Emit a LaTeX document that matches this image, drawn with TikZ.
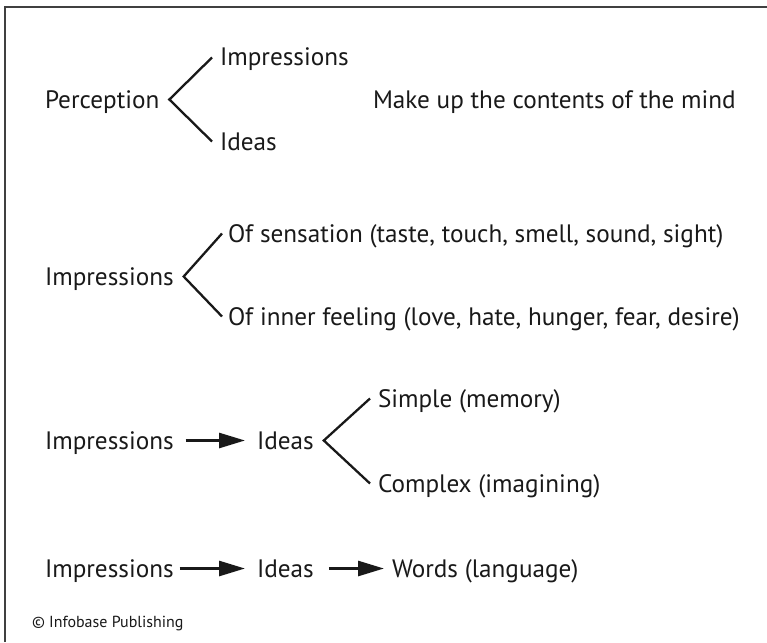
\documentclass[tikz,border=0pt]{standalone}
\usepackage{fontspec}
\setmainfont{PT Sans}
\usetikzlibrary{arrows.meta}
\begin{document}
\begin{tikzpicture}[x=1pt,y=-1pt,
  txt/.style={inner sep=0pt,outer sep=0pt,anchor=base west,text height=17pt,text depth=0pt,
    font=\fontsize{25.2}{29}\selectfont,text=black!90},
  small/.style={inner sep=0pt,outer sep=0pt,anchor=base west,font=\fontsize{16}{19}\selectfont,text=black!90},
  branch/.style={draw=black!90,line width=2.3pt,line join=miter},
  arr/.style={draw=black!90,line width=2.8pt,-{Triangle[length=26pt,width=15pt]}},
  frame/.style={draw=black!75,line width=1.3pt}]
\useasboundingbox (0,0) rectangle (767,642);
\draw[frame] (5,642) -- (5,7) -- (767,7);
% row 1
\node[txt] (perc) at (45,108) {Perception};
\node[txt] (imp1) at (220,66) {Impressions};
\node[txt] (ide1) at (220,150) {Ideas};
\node[txt] (make) at (373,108) {Make up the contents of the mind};
\coordinate (v1) at ([xshift=10pt]perc.east);
\draw[branch] ([xshift=-8pt]imp1.west) -- (v1) -- ([xshift=-8pt]ide1.west);
% row 2
\node[txt] (imp2) at (45,285) {Impressions};
\node[txt] (sens) at (228,242) {Of sensation (taste, touch, smell, sound, sight)};
\node[txt] (inner) at (228,325) {Of inner feeling (love, hate, hunger, fear, desire)};
\coordinate (v2) at ([xshift=10pt]imp2.east);
\draw[branch] ([xshift=-6pt]sens.west) -- (v2) -- ([xshift=-6pt]inner.west);
% row 3
\node[txt] (imp3) at (45,449) {Impressions};
\node[txt] (ide3) at (257,449) {Ideas};
\node[txt] (simp) at (378,407) {Simple (memory)};
\node[txt] (comp) at (378,492) {Complex (imagining)};
\draw[arr,shorten <=12pt,shorten >=12pt] (imp3.east) -- (ide3.west);
\coordinate (v3) at ([xshift=10pt]ide3.east);
\draw[branch] ([xshift=-8pt]simp.west) -- (v3) -- ([xshift=-8pt]comp.west);
% row 4
\node[txt] (imp4) at (45,577) {Impressions};
\node[txt] (ide4) at (257,577) {Ideas};
\node[txt] (word) at (392,577) {Words (language)};
\draw[arr,shorten <=6pt,shorten >=12pt] (imp4.east) -- (ide4.west);
\draw[arr,shorten <=15pt,shorten >=8pt] (ide4.east) -- (word.west);
% credit
\node[small] (copy) at (32,627) {© Infobase Publishing};
\end{tikzpicture}
\end{document}
